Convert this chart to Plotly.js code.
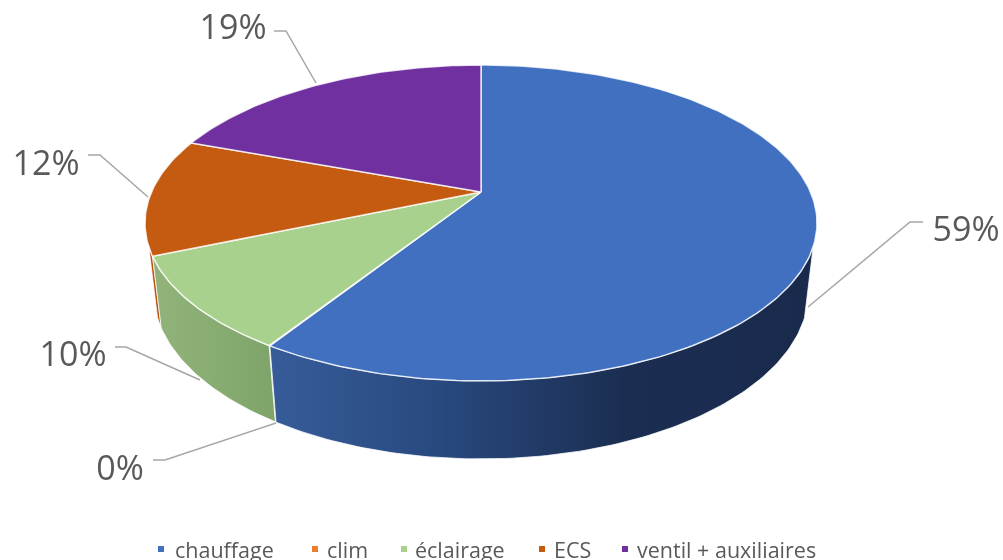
<!DOCTYPE html>
<html><head><meta charset="utf-8">
<script src="https://cdn.plot.ly/plotly-3.0.1.min.js"></script>
<style>html,body{margin:0;padding:0;background:#fff}#c{width:1003px;height:560px;filter:blur(0.6px)}</style>
</head><body><div id="c"></div>
<script>
const categories = ['chauffage','clim','éclairage','ECS','ventil + auxiliaires'];
const values = [59, 0.04, 9.6, 12, 19.4];
const topColors = ['#4170c0','#ed7d31','#a9d18e','#c55a11','#7030a0'];
const wallScales = [
  [[0,'#365c99'],[0.3,'#294a80'],[0.65,'#1b2e52'],[1,'#192a4c']],
  [[0,'#c06528'],[1,'#c06528']],
  [[0,'#92b47a'],[1,'#7ea46a']],
  [[0,'#c05510'],[1,'#b84f0e']],
  [[0,'#5a2683'],[1,'#5a2683']]
];
const labelX = [966, 120, 73, 46, 233];
const labelY = [232, 471, 357, 166, 30];
const leaderX = [[923,910,808],[153,165,276],[115,126,200],[88,100,148],[274,286,316]];
const leaderY = [[222,222,307],[460,460,423],[347,347,380],[155,155,197],[31,31,83]];
const legendMarkX = [161, 315, 404, 542, 625];
const legendTextX = [175, 327, 415, 554, 637];

const total = values.reduce((a,b)=>a+b,0);
const cx=481, cy=192, A=329.5, B=151.9, k=0.196, m=0.025, n=69.4;
const visFrom=109.7, visTo=250.3;
function proj(deg, low){
  const t=deg*Math.PI/180, u=Math.sin(t), v=Math.cos(t);
  const w=1+k*v+(low?m:0), d=low?n:0;
  return [cx+A*u/w, cy+(-B*v+d)/w];
}
function arc(a,b,low){
  const pts=[], N=Math.max(2,Math.ceil(Math.abs(b-a)));
  for(let i=0;i<=N;i++) pts.push(proj(a+(b-a)*i/N,low));
  return pts;
}
const starts=[]; let acc=0;
values.forEach(val=>{starts.push(acc/total*360); acc+=val;});
const ends=values.map((val,i)=>starts[i]+val/total*360);

const traces=[];
[4,3,1,2,0].forEach(i=>{
  const a=Math.max(starts[i],visFrom), b=Math.min(ends[i],visTo);
  if(b<=a) return;
  const pts=arc(a,b,false).concat(arc(b,a,true));
  const xs=pts.map(p=>p[0]), ys=pts.map(p=>p[1]);
  xs.push(xs[0]); ys.push(ys[0]);
  traces.push({type:'scatter',mode:'lines',x:xs,y:ys,fill:'toself',
    fillgradient:{type:'horizontal',colorscale:wallScales[i],start:Math.min(...xs),stop:Math.max(...xs)},
    line:{color:'rgba(255,255,255,0.75)',width:1},hoverinfo:'skip',showlegend:false});
});
categories.forEach((c,i)=>{
  const pts=[[cx,cy]].concat(arc(starts[i],ends[i],false),[[cx,cy]]);
  traces.push({type:'scatter',mode:'lines',name:c,x:pts.map(p=>p[0]),y:pts.map(p=>p[1]),
    fill:'toself',fillcolor:topColors[i],line:{color:'rgba(255,255,255,0.8)',width:1.5},
    hoverinfo:'name',showlegend:false});
});
categories.forEach((c,i)=>{
  traces.push({type:'scatter',mode:'lines',x:leaderX[i],y:leaderY[i],
    line:{color:'#a6a6a6',width:1.5},hoverinfo:'skip',showlegend:false});
});
traces.push({type:'scatter',mode:'text',x:labelX,y:labelY,
  text:values.map(val=>Math.round(val/total*100)+'%'),textposition:'middle center',
  textfont:{family:'Open Sans, sans-serif',size:34,color:'#595959'},hoverinfo:'skip',showlegend:false,cliponaxis:false});
traces.push({type:'scatter',mode:'markers',x:legendMarkX,y:categories.map(()=>549),
  marker:{symbol:'square',size:6,color:topColors},hoverinfo:'skip',showlegend:false});
traces.push({type:'scatter',mode:'text',x:legendTextX,y:categories.map(()=>553),
  text:categories,textposition:'middle right',
  textfont:{family:'Open Sans, sans-serif',size:21.5,color:'#595959'},hoverinfo:'skip',showlegend:false,cliponaxis:false});

Plotly.newPlot('c',traces,{
  width:1003,height:560,margin:{l:0,r:0,t:0,b:0},
  paper_bgcolor:'#fff',plot_bgcolor:'#fff',showlegend:false,
  xaxis:{range:[0,1003],visible:false,fixedrange:true},
  yaxis:{range:[560,0],visible:false,fixedrange:true}
},{displayModeBar:false});
</script></body></html>
